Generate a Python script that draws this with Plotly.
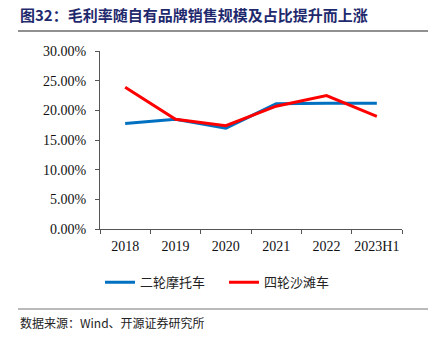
import plotly.graph_objects as go

categories = ["2018", "2019", "2020", "2021", "2022", "2023H1"]
moto = [17.8, 18.5, 17.0, 21.1, 21.2, 21.2]
atv = [23.9, 18.5, 17.4, 20.7, 22.5, 19.0]
y_ticks = [0, 5, 10, 15, 20, 25, 30]

fig = go.Figure()
fig.add_trace(go.Scatter(x=categories, y=moto, mode="lines", name="二轮摩托车",
                         line=dict(color="#0070C0", width=3)))
fig.add_trace(go.Scatter(x=categories, y=atv, mode="lines", name="四轮沙滩车",
                         line=dict(color="#FF0000", width=3)))

serif = "Liberation Serif, Times New Roman, serif"
cjk = "Noto Sans CJK SC"

fig.update_layout(
    width=437, height=351,
    margin=dict(l=100, r=35, t=51, b=122),
    paper_bgcolor="white", plot_bgcolor="white",
    showlegend=True,
    legend=dict(orientation="h", x=0.0, xanchor="left", y=-0.30, yanchor="middle",
                font=dict(family=cjk, size=13, color="#222"),
                itemwidth=30, tracegroupgap=0, bgcolor="rgba(0,0,0,0)",
                entrywidth=79, entrywidthmode="pixels"),
    xaxis=dict(type="category", showgrid=False, showline=True, linecolor="#555",
               linewidth=1, ticks="outside", tickson="boundaries", ticklen=4,
               tickcolor="#555", tickangle=0, ticklabelstandoff=4,
               tickfont=dict(family=serif, size=14, color="#111"),
               range=[-0.5, 5.5]),
    yaxis=dict(range=[0, 30], tickvals=y_ticks,
               ticktext=[f"{v:.2f}%" for v in y_ticks],
               showgrid=False, showline=True, linecolor="#555", linewidth=1,
               ticks="outside", ticklen=4, tickcolor="#555", ticklabelstandoff=6,
               tickfont=dict(family=serif, size=14, color="#111"), zeroline=False),
    annotations=[
        dict(text="<b>图32：毛利率随自有品牌销售规模及占比提升而上涨</b>",
             xref="paper", yref="paper", x=-100/302, y=1 + 37/178,
             xanchor="left", yanchor="middle", showarrow=False,
             font=dict(family=cjk, size=15, color="#1F2A6E"), xshift=18),
        dict(text="数据来源：Wind、开源证券研究所",
             xref="paper", yref="paper", x=-100/302, y=-(322 - 229) / 178,
             xanchor="left", yanchor="middle", showarrow=False,
             font=dict(family=cjk, size=12, color="#222"), xshift=18),
    ],
    shapes=[
        dict(type="line", xref="paper", yref="paper",
             x0=-82/302, x1=328/302, y0=1 + 20/178, y1=1 + 20/178,
             line=dict(color="#222", width=1.2)),
        dict(type="line", xref="paper", yref="paper",
             x0=-82/302, x1=328/302, y0=-(309 - 229) / 178, y1=-(309 - 229) / 178,
             line=dict(color="#777", width=1.2)),
    ],
)

fig.write_html("out.html")
